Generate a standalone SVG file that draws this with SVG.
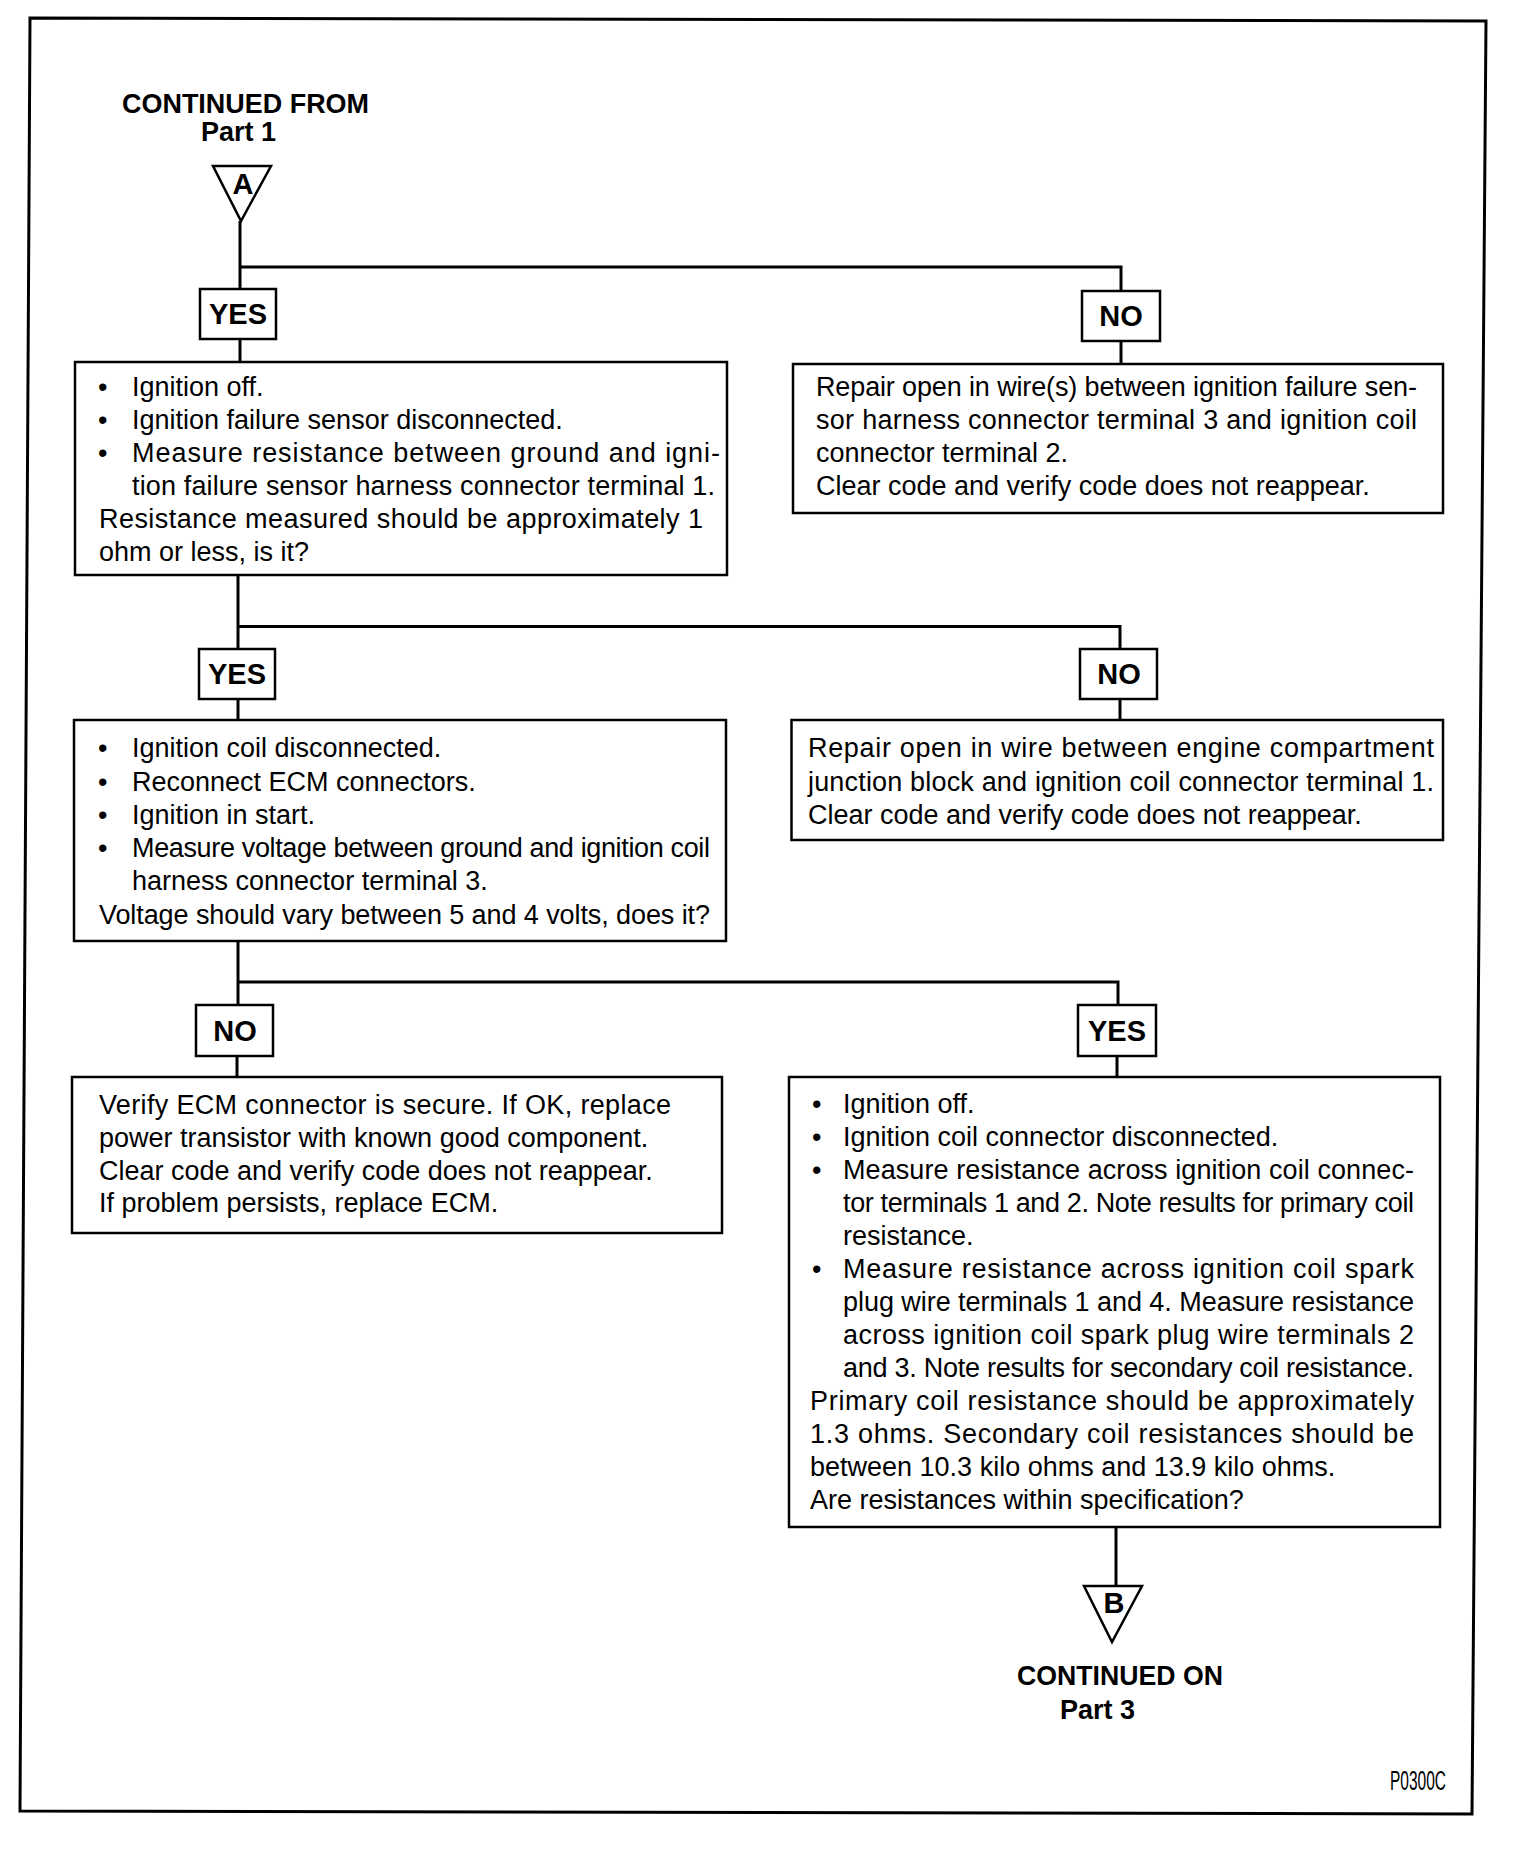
<svg xmlns="http://www.w3.org/2000/svg" width="1520" height="1868" viewBox="0 0 1520 1868">
<style>
.t{font-family:"Liberation Sans",Arial,Helvetica,sans-serif;font-size:27px;fill:#000}
.b{font-weight:bold}
.lbl{font-family:"Liberation Sans",Arial,Helvetica,sans-serif;font-size:29px;font-weight:bold;fill:#000;text-anchor:middle}
.box{fill:#fff;stroke:#000;stroke-width:2.5}
.conn{fill:none;stroke:#000;stroke-width:3}
.frame{fill:#fff;stroke:#000;stroke-width:3}
</style>
<rect x="0" y="0" width="1520" height="1868" fill="#fff"/>
<polygon class="frame" points="30,18 1486,21 1472,1814 20,1811"/>

<g id="connectors">
<polyline class="conn" points="240,221 240,289"/>
<polyline class="conn" points="240,267 1121,267 1121,291"/>
<line class="conn" x1="240" y1="339" x2="240" y2="362"/>
<line class="conn" x1="1121" y1="341" x2="1121" y2="364"/>
<polyline class="conn" points="238,575 238,649"/>
<polyline class="conn" points="238,626.5 1120,626.5 1120,649"/>
<line class="conn" x1="238" y1="699" x2="238" y2="720"/>
<line class="conn" x1="1120" y1="699" x2="1120" y2="720"/>
<polyline class="conn" points="238,941 238,1005"/>
<polyline class="conn" points="238,982 1118,982 1118,1005"/>
<line class="conn" x1="237" y1="1056" x2="237" y2="1077"/>
<line class="conn" x1="1117" y1="1056" x2="1117" y2="1077"/>
<line class="conn" x1="1116" y1="1527" x2="1116" y2="1586"/>
</g>

<g id="start">
<text class="t b" x="122" y="113" font-size="26" textLength="247" lengthAdjust="spacingAndGlyphs">CONTINUED FROM</text>
<text class="t b" x="201" y="141" font-size="25">Part 1</text>
<polygon class="box" points="213,166 271,166 241,221" stroke-width="3"/>
<text class="lbl" x="243" y="194" font-size="25">A</text>
</g>

<g id="yes1">
<rect class="box" x="200" y="289" width="76" height="50"/>
<text class="lbl" x="238" y="324">YES</text>
</g>
<g id="no1">
<rect class="box" x="1082" y="291" width="78" height="50"/>
<text class="lbl" x="1121" y="326">NO</text>
</g>

<g id="box1">
<rect class="box" x="75" y="362" width="652" height="213"/>
<text class="t" x="98" y="396">•</text><text class="t" x="132" y="396">Ignition off.</text>
<text class="t" x="98" y="429">•</text><text class="t" x="132" y="429">Ignition failure sensor disconnected.</text>
<text class="t" x="98" y="462">•</text><text class="t" x="132" y="462" textLength="588" lengthAdjust="spacing">Measure resistance between ground and igni-</text>
<text class="t" x="132" y="495" textLength="583" lengthAdjust="spacing">tion failure sensor harness connector terminal 1.</text>
<text class="t" x="99" y="528" textLength="604" lengthAdjust="spacing">Resistance measured should be approximately 1</text>
<text class="t" x="99" y="561">ohm or less, is it?</text>
</g>

<g id="box2">
<rect class="box" x="793" y="364" width="650" height="149"/>
<text class="t" x="816" y="396" textLength="601" lengthAdjust="spacing">Repair open in wire(s) between ignition failure sen-</text>
<text class="t" x="816" y="429" textLength="601" lengthAdjust="spacing">sor harness connector terminal 3 and ignition coil</text>
<text class="t" x="816" y="462">connector terminal 2.</text>
<text class="t" x="816" y="495">Clear code and verify code does not reappear.</text>
</g>

<g id="yes2">
<rect class="box" x="199" y="649" width="76" height="50"/>
<text class="lbl" x="237" y="684">YES</text>
</g>
<g id="no2">
<rect class="box" x="1080" y="649" width="77" height="50"/>
<text class="lbl" x="1119" y="684">NO</text>
</g>

<g id="box3">
<rect class="box" x="74" y="720" width="652" height="221"/>
<text class="t" x="98" y="757">•</text><text class="t" x="132" y="757">Ignition coil disconnected.</text>
<text class="t" x="98" y="791">•</text><text class="t" x="132" y="791">Reconnect ECM connectors.</text>
<text class="t" x="98" y="824">•</text><text class="t" x="132" y="824">Ignition in start.</text>
<text class="t" x="98" y="857">•</text><text class="t" x="132" y="857" textLength="578" lengthAdjust="spacing">Measure voltage between ground and ignition coil</text>
<text class="t" x="132" y="890">harness connector terminal 3.</text>
<text class="t" x="99" y="924" textLength="611" lengthAdjust="spacing">Voltage should vary between 5 and 4 volts, does it?</text>
</g>

<g id="box4">
<rect class="box" x="791.5" y="720" width="651.5" height="120"/>
<text class="t" x="808" y="757" textLength="626" lengthAdjust="spacing">Repair open in wire between engine compartment</text>
<text class="t" x="808" y="791" textLength="626" lengthAdjust="spacing">junction block and ignition coil connector terminal 1.</text>
<text class="t" x="808" y="824">Clear code and verify code does not reappear.</text>
</g>

<g id="no3">
<rect class="box" x="196" y="1005" width="77" height="51"/>
<text class="lbl" x="235" y="1041">NO</text>
</g>
<g id="yes3">
<rect class="box" x="1078" y="1005" width="78" height="51"/>
<text class="lbl" x="1117" y="1041">YES</text>
</g>

<g id="box5">
<rect class="box" x="72" y="1077" width="650" height="156"/>
<text class="t" x="99" y="1114" textLength="572" lengthAdjust="spacing">Verify ECM connector is secure. If OK, replace</text>
<text class="t" x="99" y="1147">power transistor with known good component.</text>
<text class="t" x="99" y="1180">Clear code and verify code does not reappear.</text>
<text class="t" x="99" y="1212">If problem persists, replace ECM.</text>
</g>

<g id="box6">
<rect class="box" x="789" y="1077" width="651" height="450"/>
<text class="t" x="812" y="1113">•</text><text class="t" x="843" y="1113">Ignition off.</text>
<text class="t" x="812" y="1146">•</text><text class="t" x="843" y="1146">Ignition coil connector disconnected.</text>
<text class="t" x="812" y="1179">•</text><text class="t" x="843" y="1179" textLength="571" lengthAdjust="spacing">Measure resistance across ignition coil connec-</text>
<text class="t" x="843" y="1212" textLength="571" lengthAdjust="spacing">tor terminals 1 and 2. Note results for primary coil</text>
<text class="t" x="843" y="1245">resistance.</text>
<text class="t" x="812" y="1278">•</text><text class="t" x="843" y="1278" textLength="571" lengthAdjust="spacing">Measure resistance across ignition coil spark</text>
<text class="t" x="843" y="1311" textLength="571" lengthAdjust="spacing">plug wire terminals 1 and 4. Measure resistance</text>
<text class="t" x="843" y="1344" textLength="571" lengthAdjust="spacing">across ignition coil spark plug wire terminals 2</text>
<text class="t" x="843" y="1377" textLength="571" lengthAdjust="spacing">and 3. Note results for secondary coil resistance.</text>
<text class="t" x="810" y="1410" textLength="604" lengthAdjust="spacing">Primary coil resistance should be approximately</text>
<text class="t" x="810" y="1443" textLength="604" lengthAdjust="spacing">1.3 ohms. Secondary coil resistances should be</text>
<text class="t" x="810" y="1476">between 10.3 kilo ohms and 13.9 kilo ohms.</text>
<text class="t" x="810" y="1509">Are resistances within specification?</text>
</g>

<g id="end">
<polygon class="box" points="1084,1586 1142,1586 1112,1642" stroke-width="3"/>
<text class="lbl" x="1114" y="1613" font-size="26">B</text>
<text class="t b" x="1017" y="1685" font-size="26.5" textLength="206" lengthAdjust="spacingAndGlyphs">CONTINUED ON</text>
<text class="t b" x="1060" y="1719" font-size="26">Part 3</text>
</g>

<text class="t" x="1390" y="1790" font-size="16" textLength="56" lengthAdjust="spacingAndGlyphs">P0300C</text>
</svg>
